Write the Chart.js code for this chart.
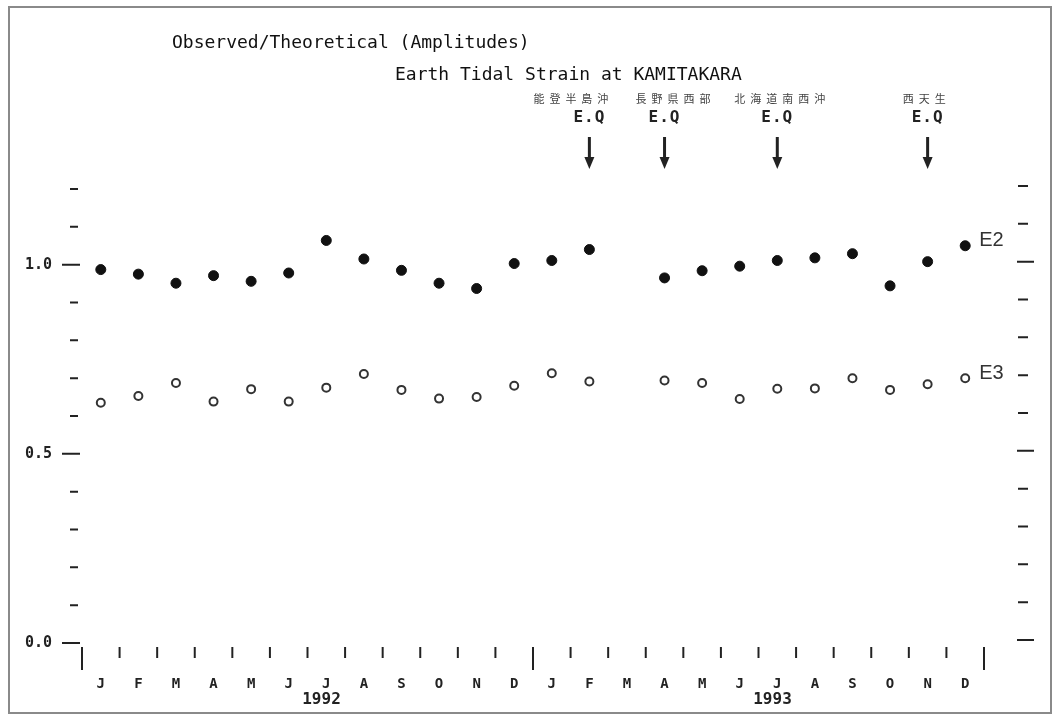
<!DOCTYPE html>
<html>
<head>
<meta charset="utf-8">
<script src="https://cdn.jsdelivr.net/npm/chart.js"></script>
<style>
  html, body { margin: 0; padding: 0; background: #fff; }
  #box { width: 1056px; height: 715px; }
</style>
</head>
<body>
<div id="box"><canvas id="myChart" width="1056" height="715"></canvas></div>
<script>
// months Jan 1992 .. Dec 1993
const months = ['J','F','M','A','M','J','J','A','S','O','N','D',
                'J','F','M','A','M','J','J','A','S','O','N','D'];
const years = ['1992', '1993'];

// observed / theoretical amplitude ratios
const e2 = [0.987, 0.975, 0.951, 0.971, 0.956, 0.978, 1.064, 1.015, 0.985, 0.951, 0.937, 1.003,
            1.011, 1.040, null, 0.965, 0.984, 0.996, 1.011, 1.018, 1.029, 0.944, 1.008, 1.050];
const e3 = [0.635, 0.653, 0.687, 0.638, 0.671, 0.638, 0.675, 0.711, 0.669, 0.646, 0.650, 0.680,
            0.713, 0.691, null, 0.694, 0.687, 0.645, 0.672, 0.673, 0.700, 0.669, 0.684, 0.700];

// earthquakes marked with arrows (month index, name)
const quakeMonth = [13, 15, 18, 22];
const quakeNames = ['能登半島沖', '長野県西部', '北海道南西沖', '西天生'];
const quakeNameShift = [-18, 9, 3, -3];

const yMin = 0.0, yMax = 1.2, yStep = 0.1;

const mono = '"DejaVu Sans Mono", monospace';
const ink = '#222';

// tick marks, titles, arrows, labels
const plotterMarks = {
  id: 'plotterMarks',
  beforeDraw(chart) {
    const ctx = chart.ctx;
    ctx.save();
    ctx.fillStyle = '#fff';
    ctx.fillRect(0, 0, chart.width, chart.height);
    ctx.strokeStyle = '#8a8a8a';
    ctx.lineWidth = 2;
    ctx.strokeRect(9, 7, 1042, 706);
    ctx.restore();
  },
  afterDraw(chart) {
    const ctx = chart.ctx;
    const xs = chart.scales.x, ys = chart.scales.y;
    ctx.save();
    ctx.strokeStyle = ink;
    ctx.fillStyle = ink;
    ctx.lineWidth = 2;

    // y ticks, left and right
    for (let k = 0; k <= Math.round((yMax - yMin) / yStep); k++) {
      const v = yMin + k * yStep;
      const y = ys.getPixelForValue(v);
      const major = k % 5 === 0;
      ctx.beginPath();
      ctx.moveTo(major ? 62 : 70, y);
      ctx.lineTo(major ? 80 : 78, y);
      ctx.moveTo(major ? 1017 : 1018, y - 3);
      ctx.lineTo(major ? 1034 : 1028, y - 3);
      ctx.stroke();
    }

    // x ticks between months, long ones at year boundaries
    const bottom = chart.chartArea.bottom;
    for (let i = 0; i <= months.length; i++) {
      const x = xs.getPixelForValue(i - 0.5);
      const major = i % 12 === 0;
      ctx.beginPath();
      ctx.moveTo(x, bottom + 4);
      ctx.lineTo(x, bottom + (major ? 27 : 15));
      ctx.stroke();
    }

    // year labels
    ctx.font = 'bold 16px ' + mono;
    ctx.textAlign = 'center';
    ctx.textBaseline = 'middle';
    years.forEach((yr, j) => {
      ctx.fillText(yr, xs.getPixelForValue(j * 12 + 5.5) + 14, 700);
    });

    // titles
    ctx.fillStyle = '#111';
    ctx.textAlign = 'left';
    ctx.font = '18px ' + mono;
    ctx.fillText('Observed/Theoretical (Amplitudes)', 172, 43);
    ctx.fillText('Earth Tidal Strain at KAMITAKARA', 395, 75);

    // earthquake arrows
    quakeMonth.forEach((m, j) => {
      const x = xs.getPixelForValue(m);
      ctx.fillStyle = '#444';
      ctx.font = '11px "Noto Sans CJK JP"';
      ctx.textAlign = 'center';
      ctx.letterSpacing = '5px';
      ctx.fillText(quakeNames[j], x + quakeNameShift[j] + 2, 99);
      ctx.letterSpacing = '1px';
      ctx.fillStyle = ink;
      ctx.font = 'bold 16px ' + mono;
      ctx.fillText('E.Q', x, 118);
      ctx.letterSpacing = '0px';
      ctx.lineWidth = 3;
      ctx.beginPath();
      ctx.moveTo(x, 137);
      ctx.lineTo(x, 160);
      ctx.stroke();
      ctx.beginPath();
      ctx.moveTo(x - 5, 157);
      ctx.lineTo(x + 5, 157);
      ctx.lineTo(x, 169);
      ctx.closePath();
      ctx.fill();
    });

    // series names next to the last points
    ctx.fillStyle = '#333';
    ctx.font = '20px "Liberation Sans Narrow", "Liberation Sans", sans-serif';
    ctx.textAlign = 'left';
    const last = months.length - 1;
    ctx.fillText('E2', xs.getPixelForValue(last) + 14, ys.getPixelForValue(e2[last]) - 5);
    ctx.fillText('E3', xs.getPixelForValue(last) + 14, ys.getPixelForValue(e3[last]) - 5);
    ctx.restore();
  }
};

const data = {
  labels: months,
  datasets: [{
    label: 'E2',
    data: e2,
    showLine: false,
    pointStyle: 'circle',
    pointRadius: 5,
    pointBackgroundColor: '#111',
    pointBorderColor: '#111',
    pointBorderWidth: 1
  }, {
    label: 'E3',
    data: e3,
    showLine: false,
    pointStyle: 'circle',
    pointRadius: 4,
    pointBackgroundColor: '#fff',
    pointBorderColor: '#333',
    pointBorderWidth: 2
  }]
};

const config = {
  type: 'line',
  data,
  options: {
    responsive: false,
    animation: false,
    layout: { padding: { top: 189, right: 72, left: 0, bottom: 0 } },
    plugins: {
      legend: { display: false },
      tooltip: { enabled: false },
      title: { display: false }
    },
    scales: {
      x: {
        type: 'category',
        offset: true,
        border: { display: false },
        grid: { display: false, drawTicks: false, offset: true },
        ticks: {
          autoSkip: false,
          maxRotation: 0,
          padding: 33,
          color: ink,
          font: { family: 'DejaVu Sans Mono', size: 14, weight: 'bold' }
        },
        afterFit(scale) { scale.height = 72; }
      },
      y: {
        min: yMin,
        max: yMax,
        border: { display: false },
        grid: { display: false, drawTicks: false },
        ticks: {
          stepSize: yStep,
          padding: 30,
          color: ink,
          font: { family: 'DejaVu Sans Mono', size: 15, weight: 'bold' },
          callback: v => (Math.round(v * 10) % 5 === 0 ? v.toFixed(1) : '')
        },
        afterFit(scale) { scale.width = 82; }
      }
    }
  },
  plugins: [plotterMarks]
};

const myChart = new Chart(document.getElementById('myChart'), config);
</script>
</body>
</html>
